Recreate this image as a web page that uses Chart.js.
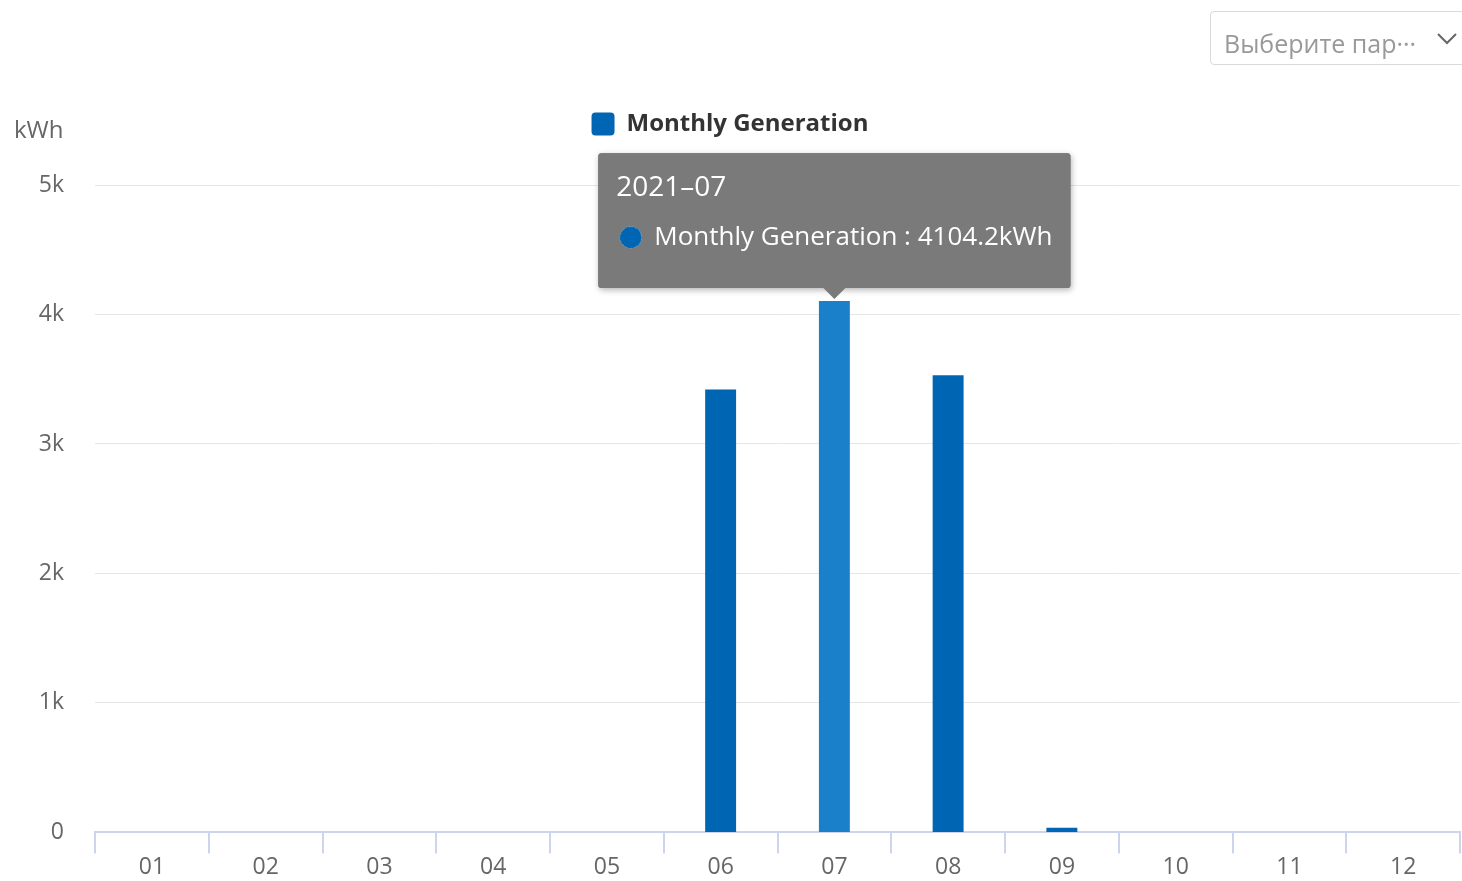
<!DOCTYPE html>
<html>
<head>
<meta charset="utf-8">
<script src="https://cdn.jsdelivr.net/npm/chart.js@4/dist/chart.umd.min.js"></script>
<style>
  html, body { margin: 0; padding: 0; background: #fff; }
  #wrap { position: relative; width: 1462px; height: 881px; overflow: hidden; font-family: "Open Sans", sans-serif; }
  #c { position: absolute; left: 0; top: 0; }
  #unit { position: absolute; left: 14px; top: 112px; font-size: 24px; color: #666; }
  #sel { position: absolute; left: 1210px; top: 11px; width: 270px; height: 54px; border: 1px solid #d9d9d9; border-radius: 4px; box-sizing: border-box; }
  #sel span { position: absolute; left: 13px; top: 16px; font-size: 25px; line-height: 1.2; color: #999; }
  #sel svg { position: absolute; left: 225px; top: 20px; }
</style>
</head>
<body>
<div id="wrap">
  <canvas id="c" width="1462" height="881"></canvas>
  <div id="unit">kWh</div>
  <div id="sel"><span>Выберите пар···</span><svg width="22" height="14" viewBox="0 0 22 14"><polyline points="2,2 11,11 20,2" fill="none" stroke="#666" stroke-width="2"/></svg></div>
</div>
<script>
const months = ['01','02','03','04','05','06','07','08','09','10','11','12'];
const generation = [0, 0, 0, 0, 0, 3420, 4104.2, 3530, 35, 0, 0, 0];
const yTicks = [0, 1000, 2000, 3000, 4000, 5000];
const seriesName = 'Monthly Generation';
const year = '2021';

const FONT = '"Open Sans", sans-serif';
Chart.defaults.font.family = FONT;

// spacer box between legend and plot area
const spacerPlugin = {
  id: 'spacer',
  beforeInit(chart) {
    const box = {
      position: 'top', weight: 500, fullSize: true, options: {},
      top: 0, left: 0, right: 0, bottom: 0, width: 0, height: 0,
      isHorizontal() { return true; },
      update(maxWidth) { this.width = maxWidth; this.height = 39; },
      getPadding() { return { top: 0, left: 0, right: 0, bottom: 0 }; },
      draw() {}
    };
    Chart.layouts.addBox(chart, box);
  }
};

// soft shadow behind the tooltip
const tooltipShadow = {
  id: 'tooltipShadow',
  beforeTooltipDraw(chart, args) {
    const t = args.tooltip;
    if (!t.opacity) return;
    const ctx = chart.ctx;
    ctx.save();
    ctx.shadowColor = 'rgba(0,0,0,0.3)';
    ctx.shadowBlur = 6;
    ctx.shadowOffsetX = 1;
    ctx.shadowOffsetY = 2;
    ctx.fillStyle = 'rgba(120,120,120,1)';
    ctx.beginPath();
    ctx.roundRect(t.x, t.y, t.width, t.height, 3);
    ctx.fill();
    ctx.restore();
  }
};

const chart = new Chart(document.getElementById('c'), {
  type: 'bar',
  data: {
    labels: months,
    datasets: [{
      label: seriesName,
      data: generation,
      backgroundColor: '#0066b3',
      hoverBackgroundColor: '#1a80ca',
      borderWidth: 0,
      categoryPercentage: 1,
      barPercentage: 0.272
    }]
  },
  plugins: [spacerPlugin, tooltipShadow],
  options: {
    responsive: false,
    animation: false,
    events: [],
    layout: { padding: { top: 102, right: 2, left: 0, bottom: 0 } },
    plugins: {
      legend: {
        display: true,
        position: 'top',
        labels: {
          boxWidth: 23, boxHeight: 23, useBorderRadius: true, borderRadius: 4,
          color: '#333', font: { size: 24, weight: 'bold', family: FONT }, padding: 10
        }
      },
      tooltip: {
        enabled: true,
        backgroundColor: 'rgb(122,122,122)',
        titleColor: '#fff', bodyColor: '#fff',
        titleFont: { size: 28, weight: 'normal', family: FONT },
        bodyFont: { size: 26, weight: 'normal', family: FONT },
        titleMarginBottom: 17,
        padding: { top: 18, bottom: 35, left: 18, right: 18 },
        cornerRadius: 3,
        caretSize: 11,
        xAlign: 'center', yAlign: 'bottom',
        displayColors: true, usePointStyle: true, boxWidth: 29, boxHeight: 21, boxPadding: 7,
        callbacks: {
          title: items => year + '–' + items[0].label,
          label: ctx => ctx.dataset.label + ' : ' + ctx.parsed.y.toFixed(1) + 'kWh',
          labelPointStyle: () => ({ pointStyle: 'circle', rotation: 0 }),
          labelColor: () => ({ backgroundColor: '#0066b3', borderColor: '#0066b3', borderWidth: 0 })
        }
      }
    },
    scales: {
      x: {
        offset: true,
        border: { display: true, color: '#ccd6eb', width: 2 },
        grid: { display: true, offset: true, drawOnChartArea: false, drawTicks: true, tickLength: 21, tickColor: '#ccd6eb', lineWidth: 2 },
        ticks: { color: '#666', font: { size: 23, family: FONT }, padding: 0 }
      },
      y: {
        min: 0, max: 5000,
        afterBuildTicks: s => { s.ticks = yTicks.map(v => ({ value: v })); },
        afterFit: s => { s.width = 95; },
        border: { display: false },
        grid: { color: '#e6e6e6', lineWidth: 1, drawTicks: false },
        ticks: { color: '#666', font: { size: 23, family: FONT }, padding: 31,
          callback: v => v === 0 ? '0' : (v / 1000) + 'k' }
      }
    }
  }
});
chart.setActiveElements([{ datasetIndex: 0, index: 6 }]);
chart.tooltip.setActiveElements([{ datasetIndex: 0, index: 6 }], { x: 0, y: 0 });
chart.update();
</script>
</body>
</html>
